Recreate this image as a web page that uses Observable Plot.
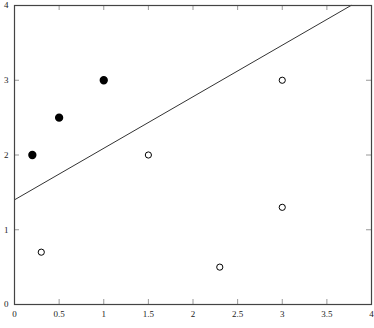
<!DOCTYPE html>
<html><head><meta charset="utf-8">
<script src="https://cdn.jsdelivr.net/npm/d3@7"></script>
<script src="https://cdn.jsdelivr.net/npm/@observablehq/plot@0.6"></script>
<style>body{margin:0;background:#fff}</style>
</head><body><div id="chart"></div>
<script>
const filledX = [0.2, 0.5, 1];
const filledY = [2, 2.5, 3];
const openX = [0.3, 1.5, 2.3, 3, 3];
const openY = [0.7, 2, 0.5, 3, 1.3];
const lineX = [0, 3.77];
const lineY = [1.4, 4];
const xTicks = [0, 0.5, 1, 1.5, 2, 2.5, 3, 3.5, 4];
const yTicks = [0, 1, 2, 3, 4];

const W = 374, H = 328, mL = 14, mR = 3, mT = 5, mB = 24;
const pw = W - mL - mR, ph = H - mT - mB;
const filled = filledX.map((x, i) => ({x, y: filledY[i]}));
const open = openX.map((x, i) => ({x, y: openY[i]}));
const line = lineX.map((x, i) => ({x, y: lineY[i]}));
const tickColor = "#999";

const chart = Plot.plot({
  width: W, height: H,
  marginLeft: mL, marginRight: mR, marginTop: mT, marginBottom: mB,
  style: {fontFamily: "'Liberation Serif', 'DejaVu Serif', serif", fontSize: "9px", background: "#fff", color: "#222"},
  x: {domain: [0, 4]},
  y: {domain: [0, 4]},
  marks: [
    Plot.axisX({ticks: xTicks, tickSize: 0, tickPadding: 6, tickFormat: d => String(d), label: null, fontFamily: "'Liberation Serif', serif"}),
    Plot.axisY({ticks: yTicks, tickSize: 0, tickPadding: 6, tickFormat: d => String(d), label: null, fontFamily: "'Liberation Serif', serif"}),
    Plot.tickX(xTicks, {x: d => d, insetTop: ph - 5, stroke: tickColor}),
    Plot.tickX(xTicks, {x: d => d, insetBottom: ph - 5, stroke: tickColor}),
    Plot.tickY(yTicks, {y: d => d, insetRight: pw - 5, stroke: tickColor}),
    Plot.tickY(yTicks, {y: d => d, insetLeft: pw - 5, stroke: tickColor}),
    Plot.line(line, {x: "x", y: "y", stroke: "#333", strokeWidth: 1}),
    Plot.dot(filled, {x: "x", y: "y", r: 3.4, fill: "#000", stroke: "#000"}),
    Plot.dot(open, {x: "x", y: "y", r: 3.1, fill: "#fff", stroke: "#000", strokeWidth: 1}),
    Plot.frame({stroke: "#444", strokeWidth: 1.2})
  ]
});
document.getElementById("chart").appendChild(chart);
</script></body></html>
